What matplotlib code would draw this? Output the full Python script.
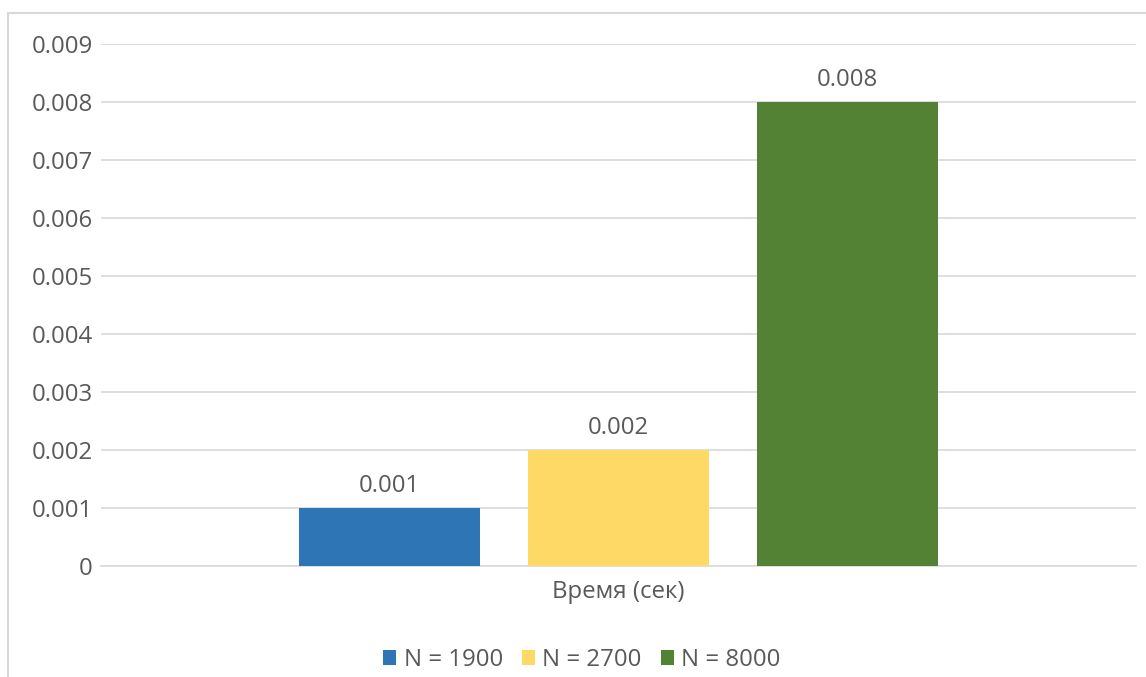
import numpy as np
import matplotlib.pyplot as plt
from matplotlib.patches import Rectangle

plt.rcParams['font.family'] = ['Open Sans', 'DejaVu Sans']

category = 'Время (сек)'
series = ['N = 1900', 'N = 2700', 'N = 8000']
values = [0.001, 0.002, 0.008]
value_labels = ['0.001', '0.002', '0.008']
colors = ['#2E75B6', '#FFD966', '#548235']
yticks = np.arange(0, 0.0091, 0.001)
ytick_labels = ['0'] + ['%.3f' % t for t in yticks[1:]]

text_color = '#595959'
grid_color = '#D9D9D9'
fs = 17.3

fig = plt.figure(figsize=(11.46, 6.77), dpi=100)
W, H = 1146, 677

# outer chart border (cropped at right and bottom)
fig.patches.append(Rectangle((8 / W, -0.1), 1.2, 1 - 13 / H + 0.1,
                             transform=fig.transFigure, fill=False,
                             edgecolor=grid_color, linewidth=1.5))

ax = fig.add_axes([101 / W, 1 - 566 / H, (1136 - 101) / W, (566 - 44) / H])

offsets = [-0.221, 0.0, 0.221]
width = 0.175
handles = []
for off, v, lab, c, s in zip(offsets, values, value_labels, colors, series):
    b = ax.bar(off, v, width=width, color=c, label=s, zorder=3)
    handles.append(b)
    ax.annotate(lab, (off, v), xytext=(0, 7), textcoords='offset points',
                ha='center', va='bottom', fontsize=fs, color=text_color)

ax.set_xlim(-0.5, 0.5)
ax.set_ylim(0, 0.009)
ax.set_yticks(yticks)
ax.set_yticklabels(ytick_labels)
ax.set_xticks([0])
ax.set_xticklabels([category])
ax.tick_params(axis='both', length=0, labelsize=fs, colors=text_color)
ax.tick_params(axis='y', pad=6)
ax.tick_params(axis='x', pad=10)
ax.grid(axis='y', color=grid_color, linewidth=1.2, zorder=0)
for sp in ['top', 'right', 'left']:
    ax.spines[sp].set_visible(False)
ax.spines['bottom'].set_color(grid_color)
ax.spines['bottom'].set_linewidth(1.2)

fig.legend(handles=handles, loc='center',
           bbox_to_anchor=(582 / W, 1 - 660 / H),
           ncol=3, frameon=False, fontsize=fs, labelcolor=text_color,
           handlelength=0.55, handleheight=0.55, handletextpad=0.3,
           columnspacing=0.8, borderpad=0)

plt.savefig('out.png', dpi=100)
